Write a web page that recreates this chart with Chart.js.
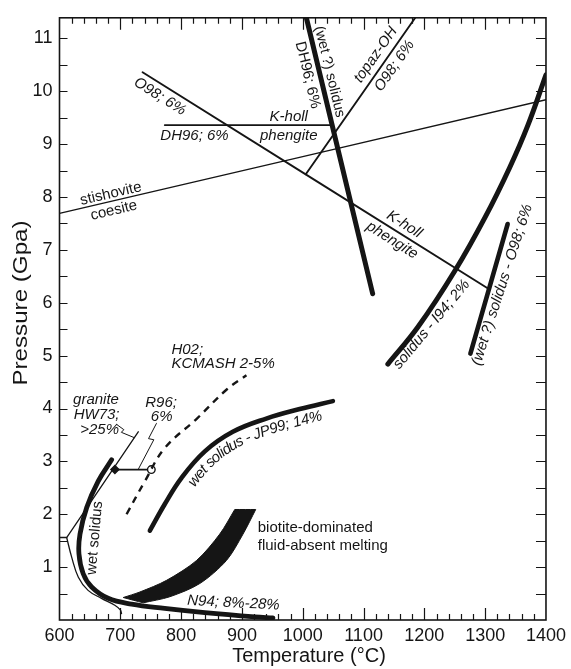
<!DOCTYPE html>
<html>
<head>
<meta charset="utf-8">
<script src="https://cdn.jsdelivr.net/npm/chart.js@4.4.1/dist/chart.umd.min.js"></script>
<style>
  html, body { margin: 0; padding: 0; background: #fff; }
</style>
</head>
<body>
<canvas id="pt" width="571" height="669"></canvas>
<script>
// P-T curves as [temperature °C, pressure GPa]
const stishoviteCoesite = [[600, 7.69], [1400, 9.84]];
const khollO98 = [[736.6, 10.36], [1306, 6.26]];
const khollDH96 = [[773, 9.36], [1047, 9.36]];
const topazOH = [[1005, 8.43], [1185, 11.39]];
const solidusDH96 = [[1006, 11.39], [1115, 6.17]];
const solidusI94 = [[1140, 4.84], [1190, 5.55], [1250, 6.60], [1300, 7.62], [1340, 8.55], [1370, 9.35], [1400, 10.31]];
const solidusO98 = [[1275.7, 5.04], [1337, 7.49]];
const solidusJP99 = [[748.6, 1.69], [773, 2.19], [800.7, 2.69], [839, 3.19], [885, 3.56], [940, 3.81], [995, 3.99], [1049.6, 4.14]];
const kcmashH02 = [[710.3, 2.0], [740.4, 2.625], [773, 3.25], [826, 3.81], [875, 4.36], [907.4, 4.63]];
const wetSolidusGranite = [[685.7, 3.03], [663.7, 2.625], [644.7, 2.125], [633.7, 1.625], [632, 1.25], [639, 0.875], [652.9, 0.625], [680, 0.41], [718.5, 0.30], [773, 0.22], [839, 0.14], [921, 0.06], [951, 0.04]];
const thinSolidus = [[611.8, 1.56], [620, 1.19], [631, 0.81], [647, 0.56], [669, 0.41], [691, 0.28], [700, 0.19], [702, 0.12]];
const graniteHW73 = [[600, 1.56], [611.8, 1.56], [729.5, 3.56]];
const graniteLeader = [[693.9, 3.70], [705.8, 3.60], [701.7, 3.55], [722.7, 3.45]];
const r96 = [[691.1, 2.845], [751, 2.845]];
const r96Leader = [[759.5, 3.72], [746.4, 3.43], [755.1, 3.41], [729.3, 2.845]];
// biotite-dominated fluid-absent melting field: upper-left and lower-right edges
const biotiteUpper = [[704.8, 0.425], [732.2, 0.53], [776, 0.75], [825.3, 1.125], [863.5, 1.625], [888.2, 2.09]];
const biotiteLower = [[737.6, 0.325], [781.4, 0.44], [830.7, 0.69], [874.5, 1.125], [901.8, 1.625], [922.7, 2.09]];

// axis ranges and tick labels
const tempRange = [600, 1400];
const presRange = [0, 11.39];
const tempTicks = [600, 700, 800, 900, 1000, 1100, 1200, 1300, 1400];
const presTicks = [1, 2, 3, 4, 5, 6, 7, 8, 9, 10, 11];

const FONT = '"Liberation Sans", Arial, Helvetica, sans-serif';
const INK = '#151515';

function line(data, width, extra) {
  return Object.assign({
    data: data.map(([x, y]) => ({ x, y })),
    showLine: true,
    borderColor: INK,
    backgroundColor: INK,
    borderWidth: width,
    pointRadius: 0,
    pointHoverRadius: 0,
    tension: 0.4,
    borderCapStyle: 'round',
    borderJoinStyle: 'round',
    fill: false
  }, extra || {});
}

// closed outline of the band; corners are repeated so the spline keeps them sharp
const lowerRev = biotiteLower.slice().reverse();
const biotiteOutline = [
  ...biotiteUpper, biotiteUpper[biotiteUpper.length - 1],
  lowerRev[0], ...lowerRev, lowerRev[lowerRev.length - 1],
  biotiteUpper[0]
];

// text labels placed in data coordinates
const notes = [
  { text: 'O98; 6%', at: [765, 9.90], rot: 32.2, it: true },
  { text: 'DH96; 6%', at: [822, 9.15], it: true },
  { text: 'K-holl', at: [977, 9.51], it: true },
  { text: 'phengite', at: [977, 9.15], it: true },
  { text: '(wet ?) solidus', at: [1044, 10.37], rot: 76.5, size: 14.5 },
  { text: 'DH96; 6%', at: [1008, 10.31], rot: 76.5 },
  { text: 'topaz-OH', at: [1120, 10.69], rot: -54.9, it: true },
  { text: 'O98; 6%', at: [1151, 10.48], rot: -54.9, it: true },
  { text: 'stishovite', at: [684.5, 8.06], rot: -13.1 },
  { text: 'coesite', at: [689.4, 7.745], rot: -13.1 },
  { text: 'K-holl', at: [1167, 7.48], rot: 32.2, it: true },
  { text: 'phengite', at: [1147, 7.18], rot: 32.2, it: true },
  { text: 'solidus - I94; 2%', at: [1212, 5.59], rot: -50.2, it: true },
  { text: '(wet ?) solidus - O98; 6%', at: [1328, 6.34], rot: -72, it: true },
  { text: 'H02;', at: [784, 5.11], align: 'left', it: true },
  { text: 'KCMASH 2-5%', at: [784, 4.84], align: 'left', it: true },
  { text: 'granite', at: [660, 4.16], it: true },
  { text: 'HW73;', at: [661, 3.88], it: true },
  { text: '>25%', at: [666, 3.60], it: true },
  { text: 'R96;', at: [767, 4.11], it: true },
  { text: '6%', at: [768, 3.84], it: true },
  { text: 'wet solidus', at: [658, 1.55], rot: -85 },
  { text: 'N94; 8%-28%', at: [886, 0.32], rot: 3, it: true },
  { text: 'biotite-dominated', at: [926, 1.75], align: 'left' },
  { text: 'fluid-absent melting', at: [926, 1.41], align: 'left' }
];

// densify a pixel polyline with Catmull-Rom so text can follow it smoothly
function smooth(pts, n) {
  const out = [];
  for (let i = 0; i < pts.length - 1; i++) {
    const p0 = pts[Math.max(i - 1, 0)], p1 = pts[i], p2 = pts[i + 1], p3 = pts[Math.min(i + 2, pts.length - 1)];
    for (let k = 0; k < n; k++) {
      const t = k / n, t2 = t * t, t3 = t2 * t;
      const f = (a, b, c, d) => 0.5 * (2 * b + (-a + c) * t + (2 * a - 5 * b + 4 * c - d) * t2 + (-a + 3 * b - 3 * c + d) * t3);
      out.push([f(p0[0], p1[0], p2[0], p3[0]), f(p0[1], p1[1], p2[1], p3[1])]);
    }
  }
  out.push(pts[pts.length - 1]);
  return out;
}

function textAlong(ctx, str, pts, start, shift) {
  const segs = [];
  let total = 0;
  for (let i = 1; i < pts.length; i++) {
    const dx = pts[i][0] - pts[i - 1][0], dy = pts[i][1] - pts[i - 1][1];
    const len = Math.hypot(dx, dy);
    if (!len) continue;
    segs.push({ x: pts[i - 1][0], y: pts[i - 1][1], dx: dx / len, dy: dy / len, len, s0: total });
    total += len;
  }
  let s = start;
  for (const ch of str) {
    const w = ctx.measureText(ch).width;
    const mid = s + w / 2;
    const g = segs.find(q => mid <= q.s0 + q.len) || segs[segs.length - 1];
    const u = mid - g.s0;
    const px = g.x + g.dx * u - g.dy * shift;
    const py = g.y + g.dy * u + g.dx * shift;
    ctx.save();
    ctx.translate(px, py);
    ctx.rotate(Math.atan2(g.dy, g.dx));
    ctx.fillText(ch, 0, 0);
    ctx.restore();
    s += w;
  }
}

const decor = {
  id: 'decor',
  afterDraw(chart) {
    const { ctx, chartArea: a, scales: { x, y } } = chart;
    ctx.save();

    // frame with inward ticks on all four sides
    ctx.strokeStyle = INK;
    ctx.lineWidth = 1.2;
    ctx.beginPath();
    for (let t = tempRange[0] + 20; t < tempRange[1]; t += 20) {
      const px = Math.round(x.getPixelForValue(t)) + 0.5;
      const len = t % 100 === 0 ? 12 : 6;
      ctx.moveTo(px, a.bottom); ctx.lineTo(px, a.bottom - len);
      ctx.moveTo(px, a.top); ctx.lineTo(px, a.top + len);
    }
    for (let p = 0.5; p < presRange[1]; p += 0.5) {
      const py = Math.round(y.getPixelForValue(p)) + 0.5;
      ctx.moveTo(a.left, py); ctx.lineTo(a.left + 8, py);
      ctx.moveTo(a.right, py); ctx.lineTo(a.right - 10, py);
    }
    ctx.stroke();
    ctx.lineWidth = 1.6;
    ctx.strokeRect(a.left, a.top, a.right - a.left, a.bottom - a.top);

    // labels
    ctx.fillStyle = INK;
    ctx.textBaseline = 'middle';
    for (const n of notes) {
      ctx.font = (n.it ? 'italic ' : '') + (n.size || 15) + 'px ' + FONT;
      ctx.textAlign = n.align || 'center';
      ctx.save();
      ctx.translate(x.getPixelForValue(n.at[0]), y.getPixelForValue(n.at[1]));
      ctx.rotate((n.rot || 0) * Math.PI / 180);
      ctx.fillText(n.text, 0, 0);
      ctx.restore();
    }

    // label that follows the JP99 solidus
    ctx.font = 'italic 15px ' + FONT;
    ctx.textAlign = 'center';
    const path = smooth(solidusJP99.map(([t, p]) => [x.getPixelForValue(t), y.getPixelForValue(p)]), 10);
    textAlong(ctx, 'wet solidus - JP99; 14%', path, 62, 12);

    // axis titles
    ctx.font = '20px ' + FONT;
    ctx.textAlign = 'center';
    ctx.fillText('Temperature (\u00B0C)', 309, 656);
    ctx.save();
    ctx.translate(21, 303);
    ctx.rotate(-Math.PI / 2);
    ctx.scale(1.15, 1);
    ctx.font = '21px ' + FONT;
    ctx.fillText('Pressure (Gpa)', 0, 0);
    ctx.restore();

    ctx.restore();
  }
};

new Chart(document.getElementById('pt'), {
  type: 'scatter',
  data: {
    datasets: [
      line(biotiteOutline, 1, { fill: 'shape', tension: 0.3, borderCapStyle: 'butt', borderJoinStyle: 'miter' }),
      line(stishoviteCoesite, 1.3),
      line(khollO98, 1.9),
      line(khollDH96, 1.6),
      line(topazOH, 1.9),
      line(solidusDH96, 5),
      line(solidusI94, 5),
      line(solidusO98, 4.6),
      line(solidusJP99, 4.6),
      line(kcmashH02, 2.4, { borderDash: [7, 6], borderCapStyle: 'butt' }),
      line(wetSolidusGranite, 4.8),
      line(thinSolidus, 1.3),
      line(graniteHW73, 1.3, { tension: 0 }),
      line(graniteLeader, 1, { tension: 0 }),
      line(r96Leader, 1, { tension: 0 }),
      line(r96, 1.6, {
        tension: 0,
        pointRadius: [4, 3.8],
        pointStyle: ['rectRot', 'circle'],
        pointBackgroundColor: [INK, '#fff'],
        pointBorderColor: INK,
        pointBorderWidth: 1.4
      })
    ]
  },
  options: {
    responsive: false,
    devicePixelRatio: 1,
    animation: false,
    events: [],
    layout: { padding: { left: 0, right: 24, top: 12.7, bottom: 0 } },
    plugins: { legend: { display: false }, tooltip: { enabled: false } },
    scales: {
      x: {
        type: 'linear',
        min: tempRange[0],
        max: tempRange[1],
        afterFit: s => { s.height = 49; },
        afterBuildTicks: s => { s.ticks = tempTicks.map(v => ({ value: v })); },
        grid: { display: false, drawTicks: false },
        border: { display: false },
        ticks: { padding: 5, color: INK, font: { family: FONT, size: 18 }, maxRotation: 0, autoSkip: false,
                 callback: v => String(v) }
      },
      y: {
        type: 'linear',
        min: presRange[0],
        max: presRange[1],
        afterFit: s => { s.width = 59.5; },
        afterBuildTicks: s => { s.ticks = presTicks.map(v => ({ value: v })); },
        grid: { display: false, drawTicks: false },
        border: { display: false },
        ticks: { padding: 7, color: INK, font: { family: FONT, size: 18 }, autoSkip: false,
                 callback: v => String(v) }
      }
    }
  },
  plugins: [decor]
});
</script>
</body>
</html>
